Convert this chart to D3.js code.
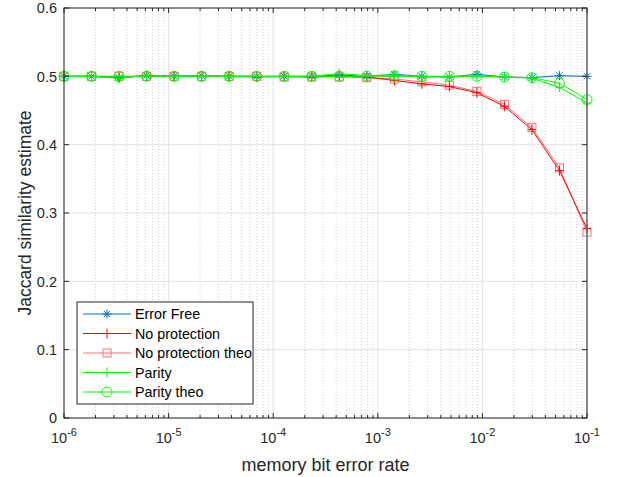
<!DOCTYPE html>
<html>
<head>
<meta charset="utf-8">
<script src="https://cdn.jsdelivr.net/npm/d3@7"></script>
<style>
  html, body { margin: 0; padding: 0; background: #fff; }
  svg { display: block; font-family: "Liberation Sans", Arial, Helvetica, sans-serif; }
</style>
</head>
<body>
<svg id="chart" width="618" height="477"></svg>
<script>
// Memory bit error rates (logspace(-6,-1,20))
const errorRates = [1e-6, 1.833e-6, 3.360e-6, 6.158e-6, 1.129e-5, 2.069e-5, 3.793e-5, 6.952e-5,
  1.274e-4, 2.336e-4, 4.281e-4, 7.848e-4, 1.438e-3, 2.637e-3, 4.833e-3, 8.859e-3,
  1.624e-2, 2.976e-2, 5.456e-2, 1e-1];

// Jaccard similarity estimates per series
const errorFree      = [0.500, 0.500, 0.498, 0.501, 0.500, 0.501, 0.500, 0.500, 0.500, 0.500,
                        0.502, 0.500, 0.503, 0.500, 0.499, 0.503, 0.499, 0.498, 0.501, 0.500];
const noProtection   = [0.500, 0.500, 0.498, 0.501, 0.500, 0.500, 0.500, 0.499, 0.500, 0.499,
                        0.501, 0.499, 0.494, 0.489, 0.485, 0.476, 0.456, 0.422, 0.362, 0.277];
const noProtectTheo  = [0.500, 0.500, 0.500, 0.500, 0.500, 0.500, 0.500, 0.500, 0.499, 0.499,
                        0.499, 0.498, 0.496, 0.492, 0.487, 0.478, 0.459, 0.425, 0.366, 0.272];
const parity         = [0.500, 0.500, 0.497, 0.502, 0.500, 0.501, 0.500, 0.500, 0.500, 0.500,
                        0.504, 0.501, 0.502, 0.499, 0.499, 0.501, 0.499, 0.497, 0.484, 0.461];
const parityTheo     = [0.500, 0.500, 0.500, 0.500, 0.500, 0.500, 0.500, 0.500, 0.500, 0.500,
                        0.500, 0.500, 0.500, 0.500, 0.500, 0.500, 0.499, 0.498, 0.490, 0.466];

const seriesNames = ["Error Free", "No protection", "No protection theo", "Parity", "Parity theo"];
const yTickValues = [0, 0.1, 0.2, 0.3, 0.4, 0.5, 0.6];
const xTickExponents = [-6, -5, -4, -3, -2, -1];

const series = [
  { name: seriesNames[0], values: errorFree,     color: "#0072BD", opacity: 1,    marker: "star" },
  { name: seriesNames[1], values: noProtection,  color: "#ff0000", opacity: 1,    marker: "plus" },
  { name: seriesNames[2], values: noProtectTheo, color: "#ff0000", opacity: 0.55, marker: "square" },
  { name: seriesNames[3], values: parity,        color: "#00ff00", opacity: 1,    marker: "plus" },
  { name: seriesNames[4], values: parityTheo,    color: "#00ff00", opacity: 1,    marker: "circle" }
];

const margin = { left: 64, right: 31, top: 8, bottom: 59 };
const W = 618, H = 477;
const iw = W - margin.left - margin.right;
const ih = H - margin.top - margin.bottom;

const svg = d3.select("#chart");
const g = svg.append("g").attr("transform", `translate(${margin.left},${margin.top})`);

const x = d3.scaleLog().domain([1e-6, 1e-1]).range([0, iw]);
const y = d3.scaleLinear().domain([0, 0.6]).range([ih, 0]);

// minor decades positions for the log axis
const minorTicks = [];
for (let e = -6; e < -1; e++) {
  for (let m = 2; m <= 9; m++) minorTicks.push(m * Math.pow(10, e));
}
const majorTicks = xTickExponents.map(e => Math.pow(10, e));

// grid
const grid = g.append("g");
grid.selectAll(".xminor").data(minorTicks).join("line")
  .attr("x1", d => x(d)).attr("x2", d => x(d))
  .attr("y1", 0).attr("y2", ih)
  .attr("stroke", "#d0d0d0").attr("stroke-width", 1)
  .attr("stroke-dasharray", "1,2");
grid.selectAll(".xmajor").data(majorTicks).join("line")
  .attr("x1", d => x(d)).attr("x2", d => x(d))
  .attr("y1", 0).attr("y2", ih)
  .attr("stroke", "#e3e3e3").attr("stroke-width", 1);
grid.selectAll(".ymajor").data(yTickValues).join("line")
  .attr("x1", 0).attr("x2", iw)
  .attr("y1", d => y(d)).attr("y2", d => y(d))
  .attr("stroke", "#e3e3e3").attr("stroke-width", 1);

// series lines and markers
const line = d3.line().x((d, i) => x(errorRates[i])).y(d => y(d));

function drawMarker(sel, type, color) {
  const s = 4;
  if (type === "plus") {
    sel.append("path").attr("d", `M${-s},0H${s}M0,${-s - 1}V${s + 1}`)
      .attr("stroke", color).attr("fill", "none").attr("stroke-width", 1);
  } else if (type === "star") {
    const r = 4.5, q = r * 0.7;
    sel.append("path").attr("d", `M${-r},0H${r}M0,${-r}V${r}M${-q},${-q}L${q},${q}M${-q},${q}L${q},${-q}`)
      .attr("stroke", color).attr("fill", "none").attr("stroke-width", 1);
  } else if (type === "square") {
    sel.append("rect").attr("x", -4).attr("y", -4).attr("width", 8).attr("height", 8)
      .attr("stroke", color).attr("fill", "none").attr("stroke-width", 1);
  } else if (type === "circle") {
    sel.append("circle").attr("r", 5)
      .attr("stroke", color).attr("fill", "none").attr("stroke-width", 1);
  }
}

series.forEach(s => {
  const sg = g.append("g").attr("opacity", s.opacity);
  sg.append("path").datum(s.values).attr("d", line)
    .attr("fill", "none").attr("stroke", s.color).attr("stroke-width", 1);
  s.values.forEach((v, i) => {
    const mg = sg.append("g").attr("transform", `translate(${x(errorRates[i])},${y(v)})`);
    drawMarker(mg, s.marker, s.color);
  });
});

// axes box with inward ticks
const axisColor = "#262626";
const axes = g.append("g");
axes.append("rect").attr("x", 0).attr("y", 0).attr("width", iw).attr("height", ih)
  .attr("fill", "none").attr("stroke", axisColor).attr("stroke-width", 1);
axes.append("line").attr("x1", iw).attr("x2", iw).attr("y1", 0).attr("y2", ih)
  .attr("stroke", "#8a8a8a").attr("stroke-width", 1);

const tickLen = 5, minorLen = 3;
[[majorTicks, tickLen], [minorTicks, minorLen]].forEach(([ticks, len]) => {
  axes.selectAll(null).data(ticks).join("path")
    .attr("d", d => `M${x(d)},${ih}v${-len}M${x(d)},0v${len}`)
    .attr("stroke", axisColor).attr("stroke-width", 1);
});
axes.selectAll(null).data(yTickValues).join("path")
  .attr("d", d => `M0,${y(d)}h${tickLen}M${iw},${y(d)}h${-tickLen}`)
  .attr("stroke", axisColor).attr("stroke-width", 1);

// tick labels
axes.selectAll(".ylab").data(yTickValues).join("text")
  .attr("x", -7).attr("y", d => y(d)).attr("dy", "0.36em")
  .attr("text-anchor", "end").attr("font-size", 14.5).attr("fill", axisColor)
  .text(d => d3.format("")(d));

const xl = axes.selectAll(".xlab").data(xTickExponents).join("text")
  .attr("x", d => x(Math.pow(10, d))).attr("y", ih + 25)
  .attr("text-anchor", "middle").attr("font-size", 14.5).attr("fill", axisColor);
xl.append("tspan").text("10");
xl.append("tspan").attr("dy", -7).attr("font-size", 11).text(d => "-" + Math.abs(d));

// axis titles
svg.append("text").attr("x", margin.left + iw / 2).attr("y", 471)
  .attr("text-anchor", "middle").attr("font-size", 18).attr("fill", axisColor)
  .text("memory bit error rate");
svg.append("text").attr("transform", `translate(31,${margin.top + ih / 2}) rotate(-90)`)
  .attr("text-anchor", "middle").attr("font-size", 17.5).attr("fill", axisColor)
  .text("Jaccard similarity estimate");

// legend
const lg = svg.append("g").attr("transform", "translate(77,302)");
lg.append("rect").attr("x", 0).attr("y", 0).attr("width", 176).attr("height", 102)
  .attr("fill", "#fff").attr("stroke", axisColor).attr("stroke-width", 1);
series.forEach((s, i) => {
  const row = lg.append("g").attr("transform", `translate(0,${12 + i * 19.5})`);
  const rg = row.append("g").attr("opacity", s.opacity);
  rg.append("line").attr("x1", 6).attr("x2", 54).attr("y1", 0).attr("y2", 0)
    .attr("stroke", s.color).attr("stroke-width", 1);
  drawMarker(rg.append("g").attr("transform", "translate(30,0)"), s.marker, s.color);
  row.append("text").attr("x", 58).attr("y", 0).attr("dy", "0.36em")
    .attr("font-size", 14.3).attr("fill", "#000").text(s.name);
});
</script>
</body>
</html>
